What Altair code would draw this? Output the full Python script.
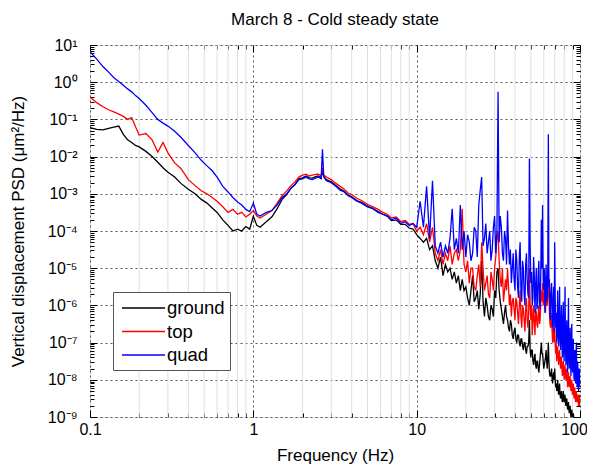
import altair as alt
import pandas as pd

FONT = "Liberation Sans"

# ---------------- data (log10 of PSD values) ----------------
freq_low = [0.10, 0.11, 0.12, 0.13, 0.14, 0.15, 0.16, 0.17, 0.18, 0.19,
            0.20, 0.22, 0.24, 0.26, 0.28, 0.30, 0.33, 0.36, 0.40, 0.44,
            0.48, 0.52, 0.56, 0.60, 0.65, 0.70, 0.75, 0.80, 0.85, 0.90,
            0.95, 1.0]
freq_mid = [1.05, 1.1, 1.2, 1.3, 1.4, 1.5, 1.6, 1.7, 1.8, 1.9,
            2.0, 2.1, 2.2, 2.3, 2.4, 2.5, 2.6, 2.65, 2.7, 2.8,
            3.0, 3.2, 3.4, 3.6, 3.8,
            4.0, 4.3, 4.6,
            5.0, 5.4, 5.8,
            6.2, 6.6,
            7.0, 7.5,
            8.0, 8.5,
            9.0, 9.5]
freq_high = [10, 10.5, 11, 11.5, 12, 12.5, 13, 13.5, 14, 14.5,
             15, 15.5, 16, 16.5, 17, 17.5, 18, 18.5, 19, 19.5,
             20, 21, 22, 23, 24, 25, 26, 27, 28, 29,
             30, 31, 31.5, 32, 33, 34, 35, 36, 37, 38,
             39, 40, 41, 42, 43, 44, 45, 46, 47, 48,
             49, 50, 51, 52, 53, 54, 55, 56, 57, 58,
             59, 60, 61, 62, 63, 64, 65, 66, 67, 68,
             69, 70, 71, 72, 73, 74, 75, 76, 77, 78,
             79, 80, 81, 82, 83, 84, 85, 86, 87, 88,
             89, 90, 91, 92, 93, 94, 95, 96, 97, 98,
             99, 100]
freq_half = [20.5, 21.5, 22.5, 23.5, 24.5, 25.5, 26.5, 27.5, 28.5, 29.5, 30.5,
             32.5, 33.5, 34.5, 35.5, 36.5, 37.5, 38.5, 39.5, 40.5, 41.5,
             42.5, 43.5, 44.5, 45.5, 46.5, 47.5, 48.5, 49.5, 50.5, 51.5,
             52.5, 53.5, 54.5, 55.5, 56.5, 57.5, 58.5, 59.5, 60.5, 61.5,
             62.5, 63.5, 64.5, 65.5, 66.5, 67.5, 68.5, 69.5, 70.5, 71.5,
             72.5, 73.5, 74.5, 75.5, 76.5, 77.5, 78.5, 79.5, 80.5, 81.5,
             82.5, 83.5, 84.5, 85.5, 86.5, 87.5, 88.5, 89.5, 90.5, 91.5,
             92.5, 93.5, 94.5, 95.5, 96.5, 97.5, 98.5, 99.5]

ground_low = [-1.22, -1.27, -1.28, -1.24, -1.21, -1.18, -1.40, -1.55, -1.62, -1.70,
              -1.74, -1.86, -2.00, -2.15, -2.30, -2.42, -2.55, -2.72, -2.88, -3.00,
              -3.15, -3.25, -3.38, -3.50, -3.70, -3.85, -4.00, -3.95, -4.00, -3.88,
              -3.95, -3.60]
ground_mid = [-3.85, -3.90, -3.75, -3.62, -3.40, -3.15, -3.02, -2.85, -2.75, -2.60,
              -2.57, -2.52, -2.57, -2.58, -2.54, -2.52, -2.57, -2.40, -2.53, -2.62,
              -2.68, -2.78, -2.87, -2.93, -3.03,
              -3.08, -3.18, -3.23,
              -3.33, -3.40, -3.48,
              -3.55, -3.60,
              -3.72, -3.70,
              -3.82, -3.82,
              -3.92, -3.95]
ground_high = [-4.1, -4.2, -4.3, -4.2, -4.5, -4.4, -4.8, -5.0, -4.7, -5.2,
               -4.9, -5.1, -5.0, -5.3, -5.1, -5.4, -5.2, -5.6, -5.3, -5.6,
               -5.5, -6.0, -5.2, -5.8, -6.1, -4.8, -6.3, -6.0, -6.4, -6.1,
               -5.6, -5.1, -5.0, -5.6, -6.1, -6.5, -6.0, -6.4, -6.7, -6.5,
               -6.9, -6.6, -7.0, -6.8, -7.1, -6.9, -7.2, -7.0, -7.3, -7.1,
               -6.4, -7.4, -7.2, -7.6, -7.3, -7.7, -7.5, -7.8, -7.4, -7.0,
               -7.3, -7.7, -7.5, -7.2, -7.7, -7.0, -7.8, -7.9, -7.7, -8.1,
               -7.8, -7.7, -8.2, -8.3, -8.0, -8.4, -8.1, -8.5, -8.3, -8.6,
               -8.3, -8.6, -8.4, -8.7, -8.5, -8.8, -8.6, -8.9, -8.7, -9.0,
               -8.8, -9.0, -8.9, -9.1, -9.0, -9.2, -9.1, -9.3, -9.2, -9.4,
               -9.3, -9.5]
ground_half = [-5.8, -5.6, -5.9, -5.6, -5.7, -5.9, -5.8, -6.3, -6.0, -6.3, -5.8,
               -5.9, -6.3, -6.2, -6.3, -6.6, -6.4, -6.8, -6.7, -6.9, -6.8,
               -7.0, -6.9, -7.1, -7.0, -7.2, -7.1, -7.0, -7.2, -7.2, -7.5,
               -7.4, -7.6, -7.5, -7.7, -7.6, -7.2, -7.3, -7.5, -7.6, -7.4,
               -7.5, -7.4, -7.5, -7.9, -7.8, -8.0, -7.9, -8.0, -8.0, -8.1,
               -8.2, -8.3, -8.2, -8.4, -8.4, -8.5, -8.5, -8.5, -8.5, -8.6,
               -8.6, -8.7, -8.7, -8.8, -8.8, -8.9, -8.9, -8.9, -9.0, -9.0,
               -9.1, -9.1, -9.2, -9.2, -9.3, -9.3, -9.4, -9.4]

top_low = [-0.40, -0.55, -0.66, -0.74, -0.80, -0.86, -0.92, -1.00, -0.95, -1.20,
           -1.42, -1.38, -1.55, -1.88, -1.62, -1.90, -2.17, -2.32, -2.62, -2.78,
           -2.92, -3.00, -3.10, -3.20, -3.35, -3.50, -3.42, -3.55, -3.50, -3.62,
           -3.55, -3.45]
top_mid = [-3.60, -3.65, -3.55, -3.45, -3.25, -3.05, -2.92, -2.78, -2.68, -2.55,
           -2.50, -2.47, -2.52, -2.50, -2.48, -2.47, -2.52, -2.30, -2.50, -2.55,
           -2.62, -2.72, -2.80, -2.88, -2.98,
           -3.02, -3.12, -3.18,
           -3.28, -3.35, -3.42,
           -3.50, -3.55,
           -3.65, -3.62,
           -3.75, -3.72,
           -3.82, -3.80]
top_high = [-4.0, -3.9, -4.1, -3.8, -4.3, -3.9, -4.6, -4.8, -4.5, -4.9,
            -4.6, -4.8, -4.4, -4.9, -4.6, -4.5, -4.8, -4.5, -3.4, -4.9,
            -5.1, -5.4, -5.0, -5.6, -4.9, -4.3, -5.6, -5.2, -5.8, -5.3,
            -5.0, -4.2, -4.0, -4.8, -5.5, -5.9, -5.3, -5.0, -6.0, -6.3,
            -5.8, -6.4, -5.9, -6.5, -5.6, -6.6, -6.1, -6.7, -5.8, -6.6,
            -5.0, -6.4, -6.8, -6.0, -6.8, -6.2, -6.6, -6.0, -6.4, -5.6,
            -5.4, -5.8, -6.0, -5.5, -6.0, -5.0, -6.2, -6.6, -6.4, -7.0,
            -6.7, -6.6, -7.3, -7.5, -7.1, -7.6, -7.2, -7.7, -7.4, -7.9,
            -7.5, -8.0, -7.6, -8.0, -7.7, -8.2, -7.8, -8.2, -7.9, -8.3,
            -8.0, -8.4, -8.1, -8.5, -8.2, -8.6, -8.3, -8.6, -8.4, -8.7,
            -8.4, -8.6]
top_half = [-4.8, -5.0, -5.5, -5.2, -5.5, -5.0, -5.4, -5.7, -5.1, -5.6, -4.7,
            -5.3, -5.0, -5.6, -5.6, -5.5, -5.7, -5.9, -6.1, -5.8, -6.2,
            -6.0, -6.3, -6.0, -6.4, -6.1, -6.4, -6.2, -6.0, -6.0, -6.3,
            -6.5, -6.1, -6.5, -6.2, -6.5, -5.9, -5.9, -6.0, -5.6, -6.2,
            -5.9, -5.6, -5.8, -6.5, -6.2, -6.7, -6.6, -7.0, -7.0, -7.0,
            -7.2, -7.4, -7.3, -7.5, -7.4, -7.7, -7.6, -7.8, -7.7, -7.9,
            -7.8, -8.0, -7.9, -8.1, -8.0, -8.1, -8.1, -8.3, -8.2, -8.4,
            -8.3, -8.5, -8.4, -8.5, -8.5, -8.6, -8.5, -8.7]

quad_low = [0.82, 0.62, 0.42, 0.27, 0.12, 0.02, -0.08, -0.18, -0.26, -0.36,
            -0.44, -0.62, -0.82, -1.00, -1.10, -1.18, -1.32, -1.48, -1.70, -1.90,
            -2.10, -2.25, -2.38, -2.55, -2.80, -2.95, -3.10, -3.22, -3.30, -3.42,
            -3.48, -3.25]
quad_mid = [-3.55, -3.60, -3.50, -3.45, -3.30, -3.10, -3.00, -2.85, -2.75, -2.62,
            -2.60, -2.55, -2.60, -2.62, -2.58, -2.55, -2.60, -1.80, -2.55, -2.65,
            -2.70, -2.80, -2.90, -2.95, -3.05,
            -3.10, -3.20, -3.25,
            -3.35, -3.40, -3.50,
            -3.55, -3.60,
            -3.70, -3.65,
            -3.80, -3.75,
            -3.85, -3.80]
quad_high = [-3.9, -3.2, -3.9, -2.8, -4.2, -2.65, -4.4, -4.6, -4.3, -4.7,
             -4.4, -4.6, -4.2, -3.4, -4.5, -4.2, -4.6, -3.3, -4.5, -4.0,
             -4.7, -4.3, -4.6, -4.0, -3.3, -2.55, -4.2, -4.6, -4.0, -4.5,
             -3.6, -4.0, -0.26, -4.3, -3.9, -4.8, -4.2, -3.45, -4.9, -5.4,
             -4.6, -5.6, -4.8, -5.8, -4.3, -5.9, -5.0, -6.0, -4.6, -5.7,
             -2.05, -5.4, -6.0, -4.7, -6.2, -5.0, -6.0, -4.8, -6.1, -3.7,
             -3.3, -5.6, -6.2, -4.9, -5.8, -1.4, -5.3, -6.4, -5.4, -6.6,
             -5.5, -4.3, -6.6, -7.0, -5.6, -7.1, -5.5, -7.2, -6.0, -7.4,
             -5.9, -7.5, -5.5, -7.6, -6.4, -7.8, -5.8, -7.7, -6.6, -7.9,
             -6.5, -7.8, -6.9, -8.0, -7.2, -8.1, -7.0, -8.2, -7.6, -8.3,
             -7.7, -8.2]
quad_half = [-4.1, -4.8, -3.9, -4.7, -2.9, -4.4, -3.8, -4.3, -4.8, -3.9, -4.6,
             -3.6, -4.6, -4.0, -4.9, -4.4, -4.5, -5.0, -5.3, -4.5, -5.5,
             -4.7, -5.6, -4.8, -5.7, -4.9, -5.3, -5.8, -4.4, -5.1, -5.8,
             -5.2, -5.5, -6.1, -5.1, -5.9, -5.2, -5.0, -5.3, -5.0, -5.7,
             -5.9, -5.0, -5.5, -6.3, -5.6, -5.9, -6.0, -6.7, -5.8, -6.2,
             -6.6, -6.8, -6.2, -6.9, -6.4, -7.0, -6.5, -7.3, -6.6, -7.1,
             -6.9, -7.4, -6.9, -7.3, -7.0, -7.5, -7.1, -7.6, -7.2, -7.7,
             -7.3, -7.9, -7.4, -7.9, -7.5, -8.0, -7.8, -8.1]

series_names = ["ground", "top", "quad"]
series_colors = ["#000000", "#ff0000", "#0000ff"]

# axis tick positions
x_major = [0.1, 1, 10, 100]
minor_mult = [2, 3, 4, 5, 6, 7, 8, 9]
x_minor = [m * d for d in [0.1, 1, 10] for m in minor_mult]
y_major = [10.0 ** e for e in range(-9, 2)]
y_minor = [m * 10.0 ** e for e in range(-9, 1) for m in minor_mult]

freqs = freq_low + freq_mid + freq_high + freq_half
rows = []
for order, (name, parts) in enumerate(zip(series_names,
                                          [(ground_low, ground_mid, ground_high, ground_half),
                                           (top_low, top_mid, top_high, top_half),
                                           (quad_low, quad_mid, quad_high, quad_half)])):
    vals = parts[0] + parts[1] + parts[2] + parts[3]
    assert len(vals) == len(freqs), (name, len(vals), len(freqs))
    for f, v in zip(freqs, vals):
        rows.append({"f": f, "psd": 10.0 ** v, "series": name, "k": order})
df = pd.DataFrame(rows).sort_values(["k", "f"]).reset_index(drop=True)
dummy = pd.DataFrame({"f": [1.0], "psd": [1.0]})
minor_df = pd.DataFrame({"v": x_minor})

xs = alt.Scale(type="log", domain=[0.1, 100], nice=False)
ys = alt.Scale(type="log", domain=[1e-9, 10], nice=False)

sup = "'' + round(log(datum.value) / LN10)"
for a, b in [("-", "⁻"), ("0", "⁰"), ("1", "¹"), ("2", "²"), ("3", "³"), ("4", "⁴"),
             ("5", "⁵"), ("6", "⁶"), ("7", "⁷"), ("8", "⁸"), ("9", "⁹")]:
    sup = f"replace({sup}, '{a}', '{b}')"
y_label_expr = "'10' + " + sup

main_x_axis = alt.Axis(values=x_major, format="~g", orient="bottom", title="Frequency (Hz)",
                       grid=True, gridDash=[2, 3], gridColor="#555555", gridOpacity=1, gridWidth=1,
                       ticks=False, domain=False, labelFontSize=16, labelPadding=4,
                       labelOffset={"condition": {"test": "datum.value >= 100", "value": -6},
                                    "value": 0},
                       labelFont=FONT, labelColor="black", labelFlush=False, labelOverlap=False,
                       titleFont=FONT, titleFontSize=17, titleFontWeight="normal",
                       titleColor="black", titlePadding=10)
main_y_axis = alt.Axis(values=y_major, orient="left", labelExpr=y_label_expr,
                       title="Vertical displacement PSD (μm²/Hz)",
                       grid=True, gridDash=[2, 3], gridColor="#555555", gridOpacity=1, gridWidth=1,
                       ticks=False, domain=False, labelFontSize=16, labelPadding=13,
                       labelFont=FONT, labelColor="black", labelFlush=False, labelOverlap=False,
                       titleFont=FONT, titleFontSize=17, titleFontWeight="normal",
                       titleColor="black", titlePadding=20)


def tick_axis(orient, values, size):
    return alt.Axis(orient=orient, values=values, ticks=True, tickSize=size, offset=-size,
                    labels=False, domain=False, grid=False, title=None,
                    tickColor="#000000", tickWidth=1)


minor_grid = alt.Chart(minor_df).mark_rule(color="#e0e0e0", strokeWidth=1).encode(
    x=alt.X("v:Q", scale=xs, axis=main_x_axis)
)

lines = alt.Chart(df).mark_line(clip=True, strokeWidth=1.3).encode(
    x=alt.X("f:Q", scale=xs, axis=tick_axis("bottom", x_minor, 4)),
    y=alt.Y("psd:Q", scale=ys, axis=main_y_axis),
    color=alt.Color("series:N",
                    scale=alt.Scale(domain=series_names, range=series_colors),
                    legend=alt.Legend(title=None, orient="none", legendX=23, legendY=247,
                                      direction="vertical", symbolType="M-0.7,0H3.6",
                                      symbolSize=400, symbolStrokeWidth=1.5,
                                      labelFontSize=18.5, labelFont=FONT, labelColor="black",
                                      padding=5, strokeColor="#555555", fillColor="white",
                                      rowPadding=2.5, labelOffset=27, cornerRadius=0)),
)


def ghost(xaxis, yaxis):
    enc = {}
    enc["x"] = alt.X("f:Q", scale=xs, axis=xaxis)
    enc["y"] = alt.Y("psd:Q", scale=ys, axis=yaxis)
    return alt.Chart(dummy).mark_point(opacity=0).encode(**enc)


g2 = ghost(tick_axis("bottom", x_major, 7), tick_axis("left", y_minor, 4))
g3 = ghost(tick_axis("top", x_minor, 4), tick_axis("left", y_major, 7))
g4 = ghost(tick_axis("top", x_major, 7), tick_axis("right", y_minor, 4))
g5 = ghost(None, tick_axis("right", y_major, 7))

chart = alt.layer(minor_grid, lines, g2, g3, g4, g5).resolve_axis(
    x="independent", y="independent"
).properties(
    width=490, height=372,
    autosize=alt.AutoSizeParams(type="none"),
    padding={"left": 82, "top": 37, "right": 7, "bottom": 49},
    title=alt.TitleParams("March 8 - Cold steady state", fontSize=17, font=FONT,
                          fontWeight="normal", color="black", offset=8),
).configure_view(stroke="#111111", strokeWidth=1).configure(background="white")

chart.save("out.html", embed_options={"renderer": "svg", "actions": False})
